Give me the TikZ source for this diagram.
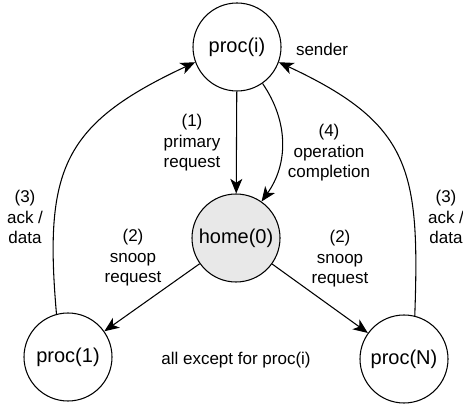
\documentclass[tikz,border=0pt]{standalone}
\usepackage{fontspec}
\setmainfont{Liberation Sans}
\usetikzlibrary{arrows.meta}

\begin{document}
\begin{tikzpicture}[x=0.75pt, y=0.75pt,
		proc/.style={draw, circle, line width=0.8pt, minimum size=66pt, inner sep=0pt, font=\fontsize{15}{18}\selectfont},
		home/.style={proc, fill=black!9},
		lbl/.style={align=center, inner sep=0pt, font=\fontsize{12.75}{15.4}\selectfont},
		msg/.style={-{Stealth[length=11pt, width=9pt, inset=3pt]}, line width=0.8pt}]
			%%%%% START %%%%%
			\useasboundingbox (0, 0) rectangle (463, 403);
			
			% the four agents
			\node[proc] (pi) at (237, 356) {proc(i)};
			\node[home] (h0) at (236, 165) {home(0)};
			\node[proc] (p1) at (68, 46) {proc(1)};
			\node[proc] (pN) at (404, 44) {proc(N)};
			
			% (1) and (4) between sender and home
			\draw[msg] (pi) -- (h0);
			\draw[msg] (pi.-55) to[bend left=35] (h0.55);
			
			% (2) snoops from home
			\draw[msg] (h0) -- (p1);
			\draw[msg] (h0) -- (pN);
			
			% (3) answers back to the sender
			\draw[msg] (p1.105) to[out=95, in=205, looseness=1.3] (pi.200);
			\draw[msg] (pN.76) to[out=88, in=-25, looseness=1.3] (pi.-20);
			
			\node[lbl] (t1) at (192, 260) {(1)\\primary\\request};
			\node[lbl] (t4) at (329, 250) {(4)\\operation\\completion};
			\node[lbl] (tsnd) at (322, 354) {sender};
			\node[lbl] (t3a) at (25, 186) {(3)\\ack /\\data};
			\node[lbl] (t3b) at (446, 186) {(3)\\ack /\\data};
			\node[lbl] (t2a) at (133, 145) {(2)\\snoop\\request};
			\node[lbl] (t2b) at (340, 144) {(2)\\snoop\\request};
			\node[lbl] (tall) at (236, 43) {all except for proc(i)};
			%%%%% END %%%%%
\end{tikzpicture}
\end{document}
